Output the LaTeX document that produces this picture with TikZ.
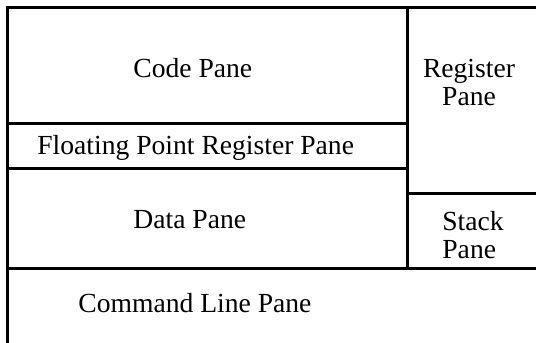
\documentclass[tikz,border=0pt]{standalone}
\usepackage{fontspec}
\setmainfont{Liberation Serif}
\usetikzlibrary{positioning}

\tikzset{
  pane/.style={font=\fontsize{13.8}{14}\selectfont, inner sep=0pt},
  wall/.style={line width=1.5pt, black}
}

\begin{document}
\begin{tikzpicture}[x=0.5pt,y=-0.5pt]

  \useasboundingbox (0,0) rectangle (536,343);

  % frame
  \draw[wall] (536,7) -- (7,7) -- (7,343);
  \draw[wall] (407,7) -- (407,268);
  \draw[wall] (7,123) -- (407,123);
  \draw[wall] (7,168) -- (407,168);
  \draw[wall] (407,193) -- (536,193);
  \draw[wall] (7,268) -- (536,268);

  % labels
  \node[pane, anchor=base west] (code) at (133,77) {Code Pane};
  \node[pane, align=center] (reg) at (469,82) {Register\\Pane};
  \node[pane, anchor=base west] (fpreg) at (37,154) {Floating Point Register Pane};
  \node[pane, anchor=base west] (data) at (133,228) {Data Pane};
  \node[pane, align=left, anchor=west] (stack) at (442,235) {Stack\\Pane};
  \node[pane, anchor=base west] (cmd) at (78,312) {Command Line Pane};

\end{tikzpicture}
\end{document}
